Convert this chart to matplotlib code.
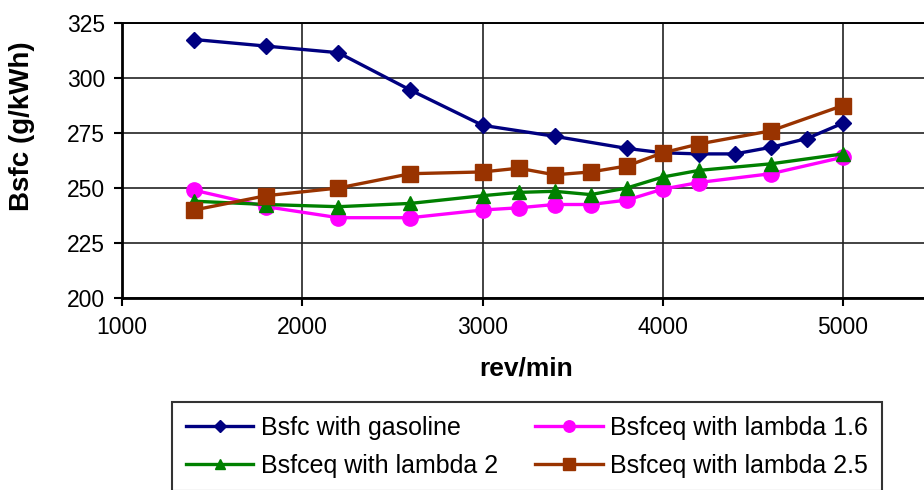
import matplotlib
matplotlib.use("Agg")
import matplotlib.pyplot as plt

# ---- data ----
rpm_gas = [1400, 1800, 2200, 2600, 3000, 3400, 3800, 4000, 4200, 4400, 4600, 4800, 5000]
bsfc_gas = [317.5, 314.5, 311.5, 294.5, 278.5, 273.5, 268.0, 266.0, 265.5, 265.5, 268.5, 272.5, 279.5]

rpm_eq = [1400, 1800, 2200, 2600, 3000, 3200, 3400, 3600, 3800, 4000, 4200, 4600, 5000]
bsfc_l16 = [249.0, 241.5, 236.5, 236.5, 240.0, 241.0, 242.5, 242.5, 244.5, 249.5, 252.5, 256.5, 264.0]
bsfc_l2 = [244.0, 242.5, 241.5, 243.0, 246.5, 248.0, 248.5, 247.0, 250.0, 255.0, 258.0, 261.0, 265.5]
bsfc_l25 = [240.0, 246.5, 250.0, 256.5, 257.3, 259.0, 256.0, 257.3, 260.0, 266.0, 270.0, 276.0, 287.5]

x_ticks = [1000, 2000, 3000, 4000, 5000]
y_ticks = [200, 225, 250, 275, 300, 325]

labels = ["Bsfc with gasoline", "Bsfceq with lambda 1.6",
          "Bsfceq with lambda 2", "Bsfceq with lambda 2.5"]

plt.rcParams['font.family'] = ['Liberation Sans', 'DejaVu Sans']

W, H = 924, 490
fig = plt.figure(figsize=(W / 100, H / 100), dpi=100)
ax = fig.add_axes([122 / W, 1 - 298 / H, (W - 122) / W, 275 / H])

l_gas, = ax.plot(rpm_gas, bsfc_gas, color='#000080', lw=2.4, marker='D', ms=8,
                 label=labels[0], zorder=3)
l_16, = ax.plot(rpm_eq, bsfc_l16, color='#FF00FF', lw=2.4, marker='o', ms=11,
                label=labels[1], zorder=4)
l_2, = ax.plot(rpm_eq, bsfc_l2, color='#008000', lw=2.4, marker='^', ms=10,
               label=labels[2], zorder=5)
l_25, = ax.plot(rpm_eq, bsfc_l25, color='#993300', lw=2.4, marker='s', ms=11,
                label=labels[3], zorder=6)

ax.set_xlim(1000, 5449)
ax.set_ylim(200, 325)
ax.set_xticks(x_ticks)
ax.set_yticks(y_ticks)
ax.grid(True, color='#222222', lw=1.2)
ax.set_axisbelow(True)
for s in ['left', 'bottom']:
    ax.spines[s].set_linewidth(2.0)
    ax.spines[s].set_color('black')
ax.spines['top'].set_linewidth(1.4)
ax.spines['right'].set_visible(False)
ax.tick_params(direction='out', length=6, width=1.5, labelsize=16.5,
               colors='black', pad=6)
ax.tick_params(axis='x', pad=7)

fig.text(22 / W, 1 - 126 / H, "Bsfc (g/kWh)", rotation=90, ha='center',
         va='center', fontsize=20, fontweight='bold')
fig.text(526 / W, 1 - 368 / H, "rev/min", ha='center', va='center',
         fontsize=19, fontweight='bold')

leg = fig.legend([l_gas, l_2, l_16, l_25],
                 [labels[0], labels[2], labels[1], labels[3]],
                 ncol=2, loc='upper left', bbox_to_anchor=(172 / W, 1 - 402 / H),
                 frameon=True, fancybox=False, shadow=False, fontsize=18,
                 handlelength=2.7, handletextpad=0.3, columnspacing=1.5,
                 labelspacing=0.55, borderpad=0.55, borderaxespad=0,
                 markerscale=0.75)
leg.get_frame().set_edgecolor('black')
leg.get_frame().set_linewidth(1.5)

fig.savefig("out.png", dpi=100)
